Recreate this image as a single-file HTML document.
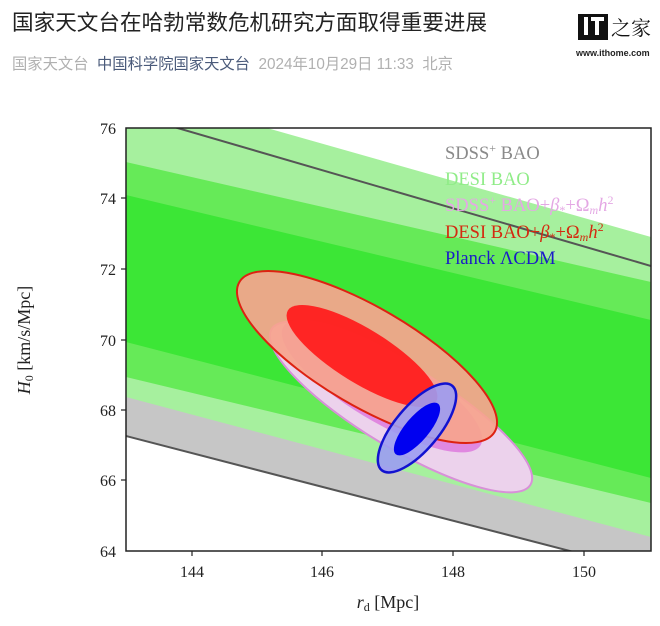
<!DOCTYPE html>
<html><head><meta charset="utf-8"><style>
body{margin:0;width:660px;height:626px;background:#fff;overflow:hidden;font-family:"Liberation Sans","Noto Sans CJK SC",sans-serif;}
.t{position:absolute;left:12px;top:6px;font-size:21.6px;color:#222;white-space:nowrap;}
.s{position:absolute;left:12px;top:52px;font-size:15.3px;color:#b0b0b0;white-space:nowrap;}
.s b{font-weight:normal;color:#4a5a7a;}
</style></head><body>
<div class="t">国家天文台在哈勃常数危机研究方面取得重要进展</div>
<div class="s">国家天文台&nbsp;&nbsp;<b>中国科学院国家天文台</b>&nbsp;&nbsp;2024年10月29日 11:33&nbsp;&nbsp;北京</div>
<div style="position:absolute;left:578px;top:14px;width:30px;height:26px;background:#111;"></div>
<div style="position:absolute;left:584px;top:17px;width:4px;height:18px;background:#fff;"></div>
<div style="position:absolute;left:591px;top:17px;width:13px;height:4px;background:#fff;"></div>
<div style="position:absolute;left:595px;top:17px;width:4px;height:18px;background:#fff;"></div>
<div style="position:absolute;left:611px;top:12px;font-size:20px;color:#111;white-space:nowrap;font-family:'Noto Serif CJK SC',serif;">之家</div>
<div style="position:absolute;left:576px;top:48px;font-size:9px;color:#222;font-weight:bold;white-space:nowrap;">www.ithome.com</div>
<svg width="660" height="626" style="position:absolute;left:0;top:0" font-family="Liberation Serif,serif">
<defs><clipPath id="c"><rect x="126" y="128" width="525" height="423"/></clipPath></defs>
<g clip-path="url(#c)">
<rect x="126" y="128" width="525" height="423" fill="#fff"/>
<polygon points="126,113 651,266 651,572 126,436" fill="#c6c6c6"/>
<polygon points="126,88 651,237 651,537 126,397" fill="#a6f09e"/>
<polygon points="126,162 651,282 651,503 126,377" fill="#66ea58"/>
<polygon points="126,195 651,320 651,478 126,342" fill="#3ce636"/>
<line x1="126" y1="113" x2="651" y2="266" stroke="#555" stroke-width="2"/>
<line x1="126" y1="436" x2="651" y2="572" stroke="#555" stroke-width="2"/>
<g transform="translate(401,407) rotate(31)"><ellipse rx="151" ry="41" fill="#ecd2ec" stroke="#d890d8" stroke-width="2"/></g>
<g transform="translate(382,386) rotate(31)"><ellipse rx="115" ry="35" fill="#e088e0"/></g>
<g transform="translate(367,357) rotate(30.4)"><ellipse rx="148" ry="49" fill="#f6a48e" fill-opacity="0.93" stroke="#dd2211" stroke-width="2"/></g>
<g transform="translate(362,356) rotate(31.6)"><ellipse rx="87" ry="27" fill="#ff1a1a" fill-opacity="0.92"/></g>
<g transform="translate(417,428) rotate(-50)"><ellipse rx="55" ry="22" fill="#9c9cf2" fill-opacity="0.9" stroke="#1212d0" stroke-width="2.5"/></g>
<g transform="translate(417,429) rotate(-50)"><ellipse rx="33" ry="12" fill="#0000f0"/></g>
</g>
<rect x="126" y="128" width="525" height="423" fill="none" stroke="#222" stroke-width="1.5"/>
<g stroke="#222" stroke-width="1.2">
<line x1="192" y1="551" x2="192" y2="556"/><line x1="322" y1="551" x2="322" y2="556"/><line x1="453" y1="551" x2="453" y2="556"/><line x1="584" y1="551" x2="584" y2="556"/>
<line x1="121" y1="198" x2="126" y2="198"/><line x1="121" y1="269" x2="126" y2="269"/><line x1="121" y1="340" x2="126" y2="340"/><line x1="121" y1="410" x2="126" y2="410"/><line x1="121" y1="480" x2="126" y2="480"/>
</g>
<g font-size="16" fill="#222" text-anchor="middle">
<text x="192" y="577">144</text><text x="322" y="577">146</text><text x="453" y="577">148</text><text x="584" y="577">150</text>
</g>
<g font-size="16" fill="#222" text-anchor="end">
<text x="116" y="134">76</text><text x="116" y="204">74</text><text x="116" y="275">72</text><text x="116" y="346">70</text><text x="116" y="416">68</text><text x="116" y="486">66</text><text x="116" y="557">64</text>
</g>
<text x="388" y="608" font-size="18" fill="#222" text-anchor="middle"><tspan font-style="italic">r</tspan><tspan font-size="12" dy="3">d</tspan><tspan dy="-3"> [Mpc]</tspan></text>
<text transform="translate(30,340) rotate(-90)" font-size="18" fill="#222" text-anchor="middle"><tspan font-style="italic">H</tspan><tspan font-size="12" dy="3">0</tspan><tspan dy="-3"> [km/s/Mpc]</tspan></text>
<g font-size="18.5">
<text x="445" y="159" fill="#8a8a8a">SDSS<tspan font-size="12" dy="-7">+</tspan><tspan dy="7"> BAO</tspan></text>
<text x="445" y="185" fill="#90ec88">DESI BAO</text>
<text x="445" y="211" fill="#e4a8e4">SDSS<tspan font-size="12" dy="-7">+</tspan><tspan dy="7"> BAO+</tspan><tspan font-style="italic">β</tspan><tspan font-size="12" dy="3">*</tspan><tspan dy="-3">+Ω</tspan><tspan font-size="12" dy="3" font-style="italic">m</tspan><tspan dy="-3" font-style="italic">h</tspan><tspan font-size="12" dy="-7">2</tspan></text>
<text x="445" y="238" fill="#d42a10">DESI BAO+<tspan font-style="italic">β</tspan><tspan font-size="12" dy="3">*</tspan><tspan dy="-3">+Ω</tspan><tspan font-size="12" dy="3" font-style="italic">m</tspan><tspan dy="-3" font-style="italic">h</tspan><tspan font-size="12" dy="-7">2</tspan></text>
<text x="445" y="264" fill="#1a1ac8">Planck ΛCDM</text>
</g>
</svg>
</body></html>
